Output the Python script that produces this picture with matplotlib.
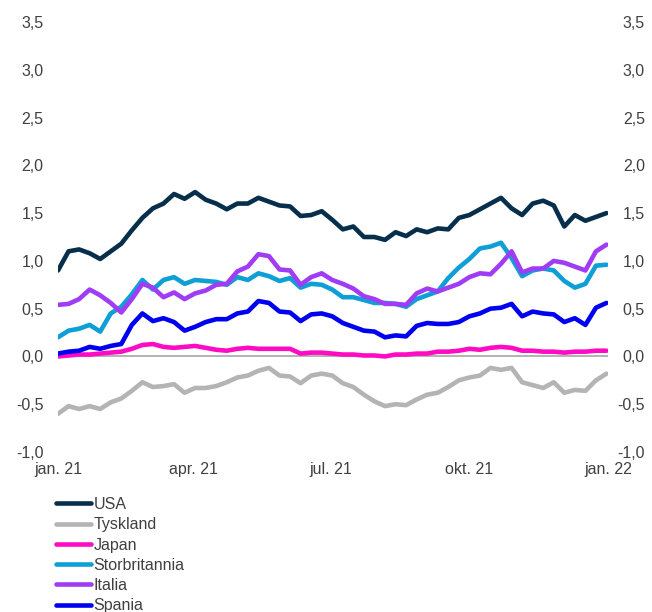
import matplotlib
matplotlib.use("Agg")
import matplotlib.pyplot as plt
import pandas as pd

plt.rcParams['font.family'] = ['Liberation Sans', 'DejaVu Sans']

dates = pd.date_range("2021-01-01", periods=53, freq="7D")

usa = [0.90, 1.10, 1.12, 1.08, 1.02, 1.10, 1.18, 1.32, 1.45, 1.55, 1.60, 1.70, 1.65, 1.72,
       1.64, 1.60, 1.54, 1.60, 1.60, 1.66, 1.62, 1.58, 1.57, 1.47, 1.48, 1.52, 1.43, 1.33,
       1.36, 1.25, 1.25, 1.22, 1.30, 1.26, 1.33, 1.30, 1.34, 1.33, 1.45, 1.48, 1.54, 1.60,
       1.66, 1.55, 1.48, 1.60, 1.63, 1.58, 1.36, 1.48, 1.42, 1.46, 1.50]
tyskland = [-0.60, -0.52, -0.55, -0.52, -0.55, -0.48, -0.44, -0.36, -0.27, -0.32, -0.31, -0.29,
            -0.38, -0.33, -0.33, -0.31, -0.27, -0.22, -0.20, -0.15, -0.12, -0.20, -0.21, -0.28,
            -0.20, -0.18, -0.20, -0.28, -0.32, -0.40, -0.47, -0.52, -0.50, -0.51, -0.45, -0.40,
            -0.38, -0.32, -0.25, -0.22, -0.20, -0.12, -0.14, -0.12, -0.27, -0.30, -0.33, -0.27,
            -0.38, -0.35, -0.36, -0.25, -0.18]
japan = [0.00, 0.01, 0.02, 0.02, 0.03, 0.04, 0.05, 0.08, 0.12, 0.13, 0.10, 0.09, 0.10, 0.11,
         0.09, 0.07, 0.06, 0.08, 0.09, 0.08, 0.08, 0.08, 0.08, 0.03, 0.04, 0.04, 0.03, 0.02,
         0.02, 0.01, 0.01, 0.00, 0.02, 0.02, 0.03, 0.03, 0.05, 0.05, 0.06, 0.08, 0.07, 0.09,
         0.10, 0.09, 0.06, 0.06, 0.05, 0.05, 0.04, 0.05, 0.05, 0.06, 0.06]
storbritannia = [0.20, 0.27, 0.29, 0.33, 0.26, 0.45, 0.52, 0.65, 0.80, 0.70, 0.80, 0.83, 0.76,
                 0.80, 0.79, 0.78, 0.75, 0.83, 0.80, 0.87, 0.84, 0.79, 0.82, 0.72, 0.76, 0.75,
                 0.70, 0.62, 0.62, 0.59, 0.56, 0.56, 0.55, 0.52, 0.60, 0.64, 0.68, 0.82, 0.93,
                 1.02, 1.13, 1.15, 1.19, 1.03, 0.84, 0.90, 0.92, 0.90, 0.79, 0.72, 0.76, 0.95, 0.96]
italia = [0.54, 0.55, 0.60, 0.70, 0.64, 0.56, 0.46, 0.60, 0.76, 0.72, 0.62, 0.67, 0.60, 0.66,
          0.69, 0.75, 0.76, 0.89, 0.94, 1.07, 1.05, 0.91, 0.90, 0.75, 0.83, 0.87, 0.80, 0.76,
          0.71, 0.63, 0.60, 0.55, 0.55, 0.54, 0.66, 0.71, 0.68, 0.72, 0.76, 0.83, 0.87, 0.86,
          0.97, 1.10, 0.88, 0.92, 0.92, 1.00, 0.98, 0.94, 0.90, 1.10, 1.17]
spania = [0.03, 0.05, 0.06, 0.10, 0.08, 0.11, 0.13, 0.33, 0.45, 0.37, 0.40, 0.36, 0.27, 0.31,
          0.36, 0.39, 0.39, 0.45, 0.47, 0.58, 0.56, 0.47, 0.46, 0.37, 0.44, 0.45, 0.42, 0.35,
          0.31, 0.27, 0.26, 0.20, 0.22, 0.21, 0.32, 0.35, 0.34, 0.34, 0.36, 0.42, 0.45, 0.50,
          0.51, 0.55, 0.42, 0.47, 0.45, 0.44, 0.36, 0.40, 0.33, 0.51, 0.56]

series_names = ["USA", "Tyskland", "Japan", "Storbritannia", "Italia", "Spania"]
series_values = [usa, tyskland, japan, storbritannia, italia, spania]
colors = ["#072f4b", "#b4b4b4", "#ff0bc4", "#0d9fd6", "#a03cf5", "#0000f0"]

x_tick_dates = pd.to_datetime(["2021-01-01", "2021-04-01", "2021-07-01", "2021-10-01", "2022-01-01"])
x_tick_labels = ["jan. 21", "apr. 21", "jul. 21", "okt. 21", "jan. 22"]
y_ticks = [-1.0, -0.5, 0.0, 0.5, 1.0, 1.5, 2.0, 2.5, 3.0, 3.5]
y_tick_labels = ["-1,0", "-0,5", "0,0", "0,5", "1,0", "1,5", "2,0", "2,5", "3,0", "3,5"]

W, H = 652, 612
TXT = "#404040"
fig = plt.figure(figsize=(W / 100, H / 100), dpi=100)
ax = fig.add_axes([58 / W, 1 - 452 / H, (608 - 58) / W, (452 - 22) / H])

ax.axhline(0, color="#a6a6a6", lw=1.2, zorder=1)
for name, vals, c in zip(series_names, series_values, colors):
    ax.plot(dates, vals, color=c, lw=3.3, label=name, solid_joinstyle="round",
            solid_capstyle="round", zorder=2)

ax.set_xlim(pd.Timestamp("2021-01-01"), pd.Timestamp("2022-01-01"))
ax.set_ylim(-1.0, 3.5)
ax.set_xticks(x_tick_dates)
ax.set_xticklabels(x_tick_labels)
ax.set_yticks(y_ticks)
ax.set_yticklabels(y_tick_labels)
for s in ax.spines.values():
    s.set_visible(False)
ax.tick_params(axis="both", length=0, labelsize=11.5, labelcolor=TXT)
ax.tick_params(axis="x", pad=7)
ax.tick_params(axis="y", pad=10.5)

ax2 = ax.twinx()
ax2.set_ylim(-1.0, 3.5)
ax2.set_yticks(y_ticks)
ax2.set_yticklabels(y_tick_labels, ha="right")
for s in ax2.spines.values():
    s.set_visible(False)
ax2.tick_params(axis="y", length=0, labelsize=11.5, labelcolor=TXT, pad=26.5)

fig.legend(loc="upper left", bbox_to_anchor=(56 / W, 1 - 497 / H), frameon=False,
           fontsize=11.5, handlelength=2.2, handletextpad=0.15, labelspacing=0.33,
           borderaxespad=0, borderpad=0, labelcolor=TXT)

fig.savefig("out.png", dpi=100)
